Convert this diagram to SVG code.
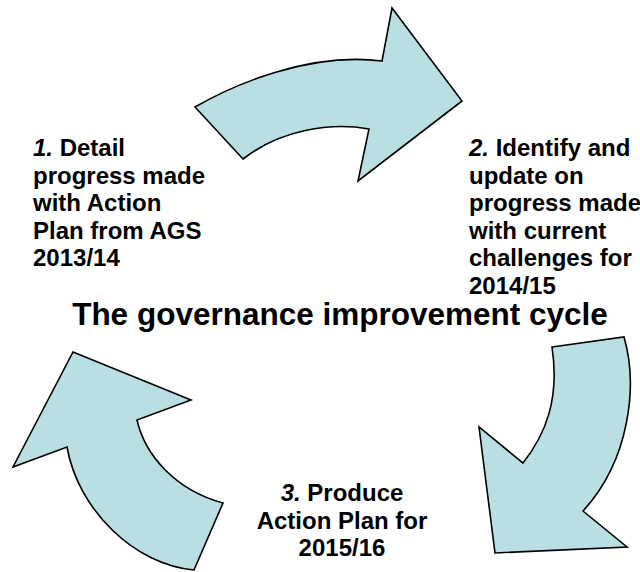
<svg xmlns="http://www.w3.org/2000/svg" width="640" height="572" viewBox="0 0 640 572">
  <style>
    .arrow { fill: #b9dfe3; stroke: #000; stroke-width: 1.6; stroke-linejoin: miter; }
    .lbl { font-family: "Liberation Sans", Arial, sans-serif; font-weight: bold; font-size: 24px; fill: #000; }
    .num { font-style: italic; }
    .title { font-family: "Liberation Sans", Arial, sans-serif; font-weight: bold; font-size: 31.5px; fill: #000; }
  </style>
  <rect width="640" height="572" fill="#fff"/>

  <!-- cycle arrows -->
  <g id="connectors">
    <path id="arrow-top" class="arrow" d="M195,107 C235,84 310,52 382,61 L392,8 L462,101 L358,181 L369,129 C330,122 280,130 243,159 Z"/>
    <path id="arrow-right" class="arrow" d="M552,347 L624,337 C638,385 630,460 583,511 L627,547 L495,553 L479,427 L523,463 C545,435 560,400 552,347 Z"/>
    <path id="arrow-left" class="arrow" d="M73,352 L191,400 L137,420 C145,455 175,490 223,503 L194,570 C135,565 78,510 67,447 L13,467 Z"/>
  </g>

  <!-- step 1 -->
  <g id="step1">
    <text class="lbl" x="33" y="156"><tspan class="num">1.</tspan> Detail</text>
    <text class="lbl" x="33" y="183.5">progress made</text>
    <text class="lbl" x="33" y="211">with Action</text>
    <text class="lbl" x="33" y="238.5">Plan from AGS</text>
    <text class="lbl" x="33" y="266">2013/14</text>
  </g>

  <!-- step 2 -->
  <g id="step2">
    <text class="lbl" x="469" y="156"><tspan class="num">2.</tspan> Identify and</text>
    <text class="lbl" x="469" y="183.5">update on</text>
    <text class="lbl" x="469" y="211">progress made</text>
    <text class="lbl" x="469" y="238.5">with current</text>
    <text class="lbl" x="469" y="266">challenges for</text>
    <text class="lbl" x="469" y="293.5">2014/15</text>
  </g>

  <!-- step 3 -->
  <g id="step3" text-anchor="middle">
    <text class="lbl" x="342" y="501"><tspan class="num">3.</tspan> Produce</text>
    <text class="lbl" x="342" y="528.5">Action Plan for</text>
    <text class="lbl" x="342" y="556">2015/16</text>
  </g>

  <!-- heading -->
  <g id="title">
    <text class="title" x="340" y="325" text-anchor="middle">The governance improvement cycle</text>
  </g>
</svg>
